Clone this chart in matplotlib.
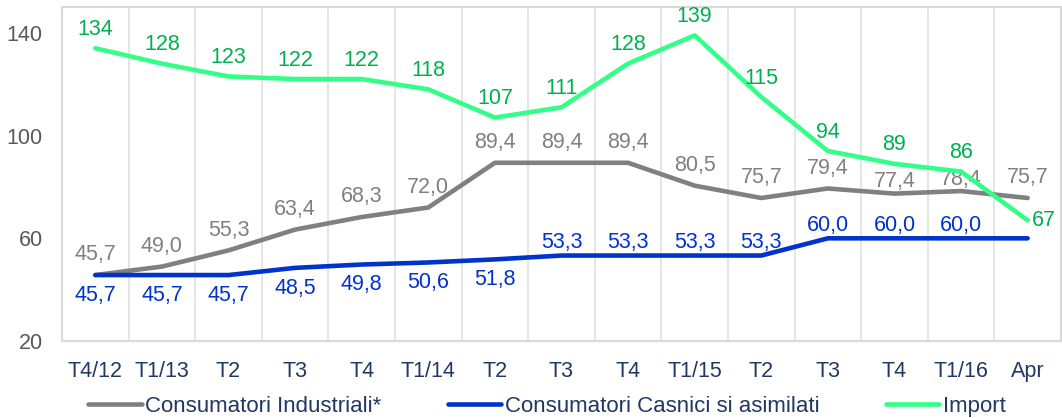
import numpy as np
import matplotlib.pyplot as plt

plt.rcParams['font.family'] = ['Liberation Sans', 'DejaVu Sans']

categories = ['T4/12', 'T1/13', 'T2', 'T3', 'T4', 'T1/14', 'T2', 'T3', 'T4',
              'T1/15', 'T2', 'T3', 'T4', 'T1/16', 'Apr']
industriali = [45.7, 49.0, 55.3, 63.4, 68.3, 72.0, 89.4, 89.4, 89.4, 80.5,
               75.7, 79.4, 77.4, 78.4, 75.7]
casnici = [45.7, 45.7, 45.7, 48.5, 49.8, 50.6, 51.8, 53.3, 53.3, 53.3,
           53.3, 60.0, 60.0, 60.0, 60.0]
importuri = [134, 128, 123, 122, 122, 118, 107, 111, 128, 139, 115, 94, 89, 86, 67]

c_ind = '#808080'
c_cas = '#0033CC'
c_imp = '#33FF88'
c_imp_txt = '#00B050'

fig = plt.figure(figsize=(10.62, 4.18), dpi=100)
ax = fig.add_axes([0.0584, 0.184, 0.9406, 0.799])
x = np.arange(len(categories))

ax.plot(x, industriali, color=c_ind, lw=3.3, solid_capstyle='round', label='Consumatori Industriali*', zorder=3)
ax.plot(x, casnici, color=c_cas, lw=3.3, solid_capstyle='round', label='Consumatori Casnici si asimilati', zorder=3)
ax.plot(x, importuri, color=c_imp, lw=3.3, solid_capstyle='round', label='Import', zorder=3)

fs = 15.5
def fmt(v):
    return f'{v:.1f}'.replace('.', ',')

# the labels of T4 and T1/16 sit low, partly under the line, as in the original
for i, v in enumerate(industriali):
    dy = 1 if i in (12, 13) else 7
    ax.annotate(fmt(v), (i, v), xytext=(0, dy), textcoords='offset points',
                ha='center', va='bottom', color=c_ind, fontsize=fs, zorder=2)
for i, v in enumerate(casnici[:-1]):
    if i < 7:
        ax.annotate(fmt(v), (i, v), xytext=(0, -7), textcoords='offset points',
                    ha='center', va='top', color=c_cas, fontsize=fs)
    else:
        ax.annotate(fmt(v), (i, v), xytext=(0, 2), textcoords='offset points',
                    ha='center', va='bottom', color=c_cas, fontsize=fs)
for i, v in enumerate(importuri):
    if i == len(importuri) - 1:
        ax.annotate(str(v), (i, v), xytext=(3, 0), textcoords='offset points',
                    ha='left', va='center', color=c_imp_txt, fontsize=fs)
    else:
        ax.annotate(str(v), (i, v), xytext=(0, 6), textcoords='offset points',
                    ha='center', va='bottom', color=c_imp_txt, fontsize=fs)

ax.set_xlim(-0.5, len(categories) - 0.5)
ax.set_ylim(20, 150)
ax.set_yticks([20, 60, 100, 140])
ax.set_xticks(x)
ax.set_xticklabels(categories)
ax.set_xticks(np.arange(0.5, len(categories) - 0.5, 1), minor=True)
ax.grid(which='minor', axis='x', color='#E0E0E0', lw=1.2)
ax.tick_params(which='both', length=0)
ax.tick_params(axis='y', colors='#595959', labelsize=fs, pad=14)
ax.tick_params(axis='x', colors='#1F3864', labelsize=fs, pad=14)
for s in ax.spines.values():
    s.set_color('#D9D9D9')
    s.set_linewidth(1.5)

leg = fig.legend(loc='lower center', bbox_to_anchor=(0.515, -0.045), ncol=3, frameon=False,
                 fontsize=16, handlelength=2.4, handletextpad=0.15, columnspacing=3.0)
for t in leg.get_texts():
    t.set_color('#1F3864')

fig.savefig('out.png', dpi=100)
